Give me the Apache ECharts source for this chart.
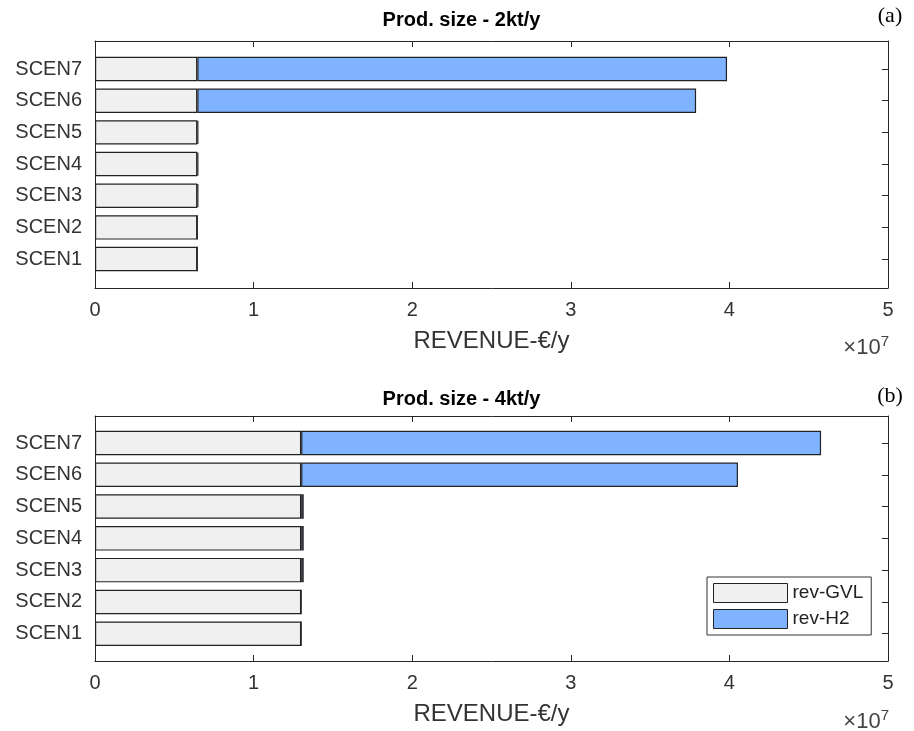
<!DOCTYPE html>
<html><head><meta charset="utf-8">
<script src="https://cdn.jsdelivr.net/npm/echarts@6/dist/echarts.min.js"></script>
<style>html,body{margin:0;padding:0;background:#fff}#c{width:914px;height:731px}</style>
</head><body><div id="c"></div>
<script>
const categories = ['SCEN1','SCEN2','SCEN3','SCEN4','SCEN5','SCEN6','SCEN7'];
const xTicks = [0,1,2,3,4,5];
const topGVL = [0.645e7,0.645e7,0.645e7,0.645e7,0.645e7,0.645e7,0.645e7];
const topH2  = [0,0,0.007e7,0.007e7,0.007e7,3.145e7,3.34e7];
const botGVL = [1.3e7,1.3e7,1.3e7,1.3e7,1.3e7,1.3e7,1.3e7];
const botH2  = [0,0,0.016e7,0.016e7,0.016e7,2.754e7,3.278e7];
const titles = ['Prod. size - 2kt/y','Prod. size - 4kt/y'];
const panelTags = ['(a)','(b)'];
const xName = 'REVENUE-€/y';
const names = ['rev-GVL','rev-H2'];

const chart = echarts.init(document.getElementById('c'));
const AX = '#262626';
const FONT = 'Liberation Sans';
const L = 95, R = 914-888;
const panels = [
  {frameTop:41, frameH:247, barTop:53.2, barH:221.7, gvl:topGVL, h2:topH2},
  {frameTop:416, frameH:245, barTop:427.1, barH:222.5, gvl:botGVL, h2:botH2}
];
const grid=[], xAxis=[], yAxis=[], series=[], graphic=[];
panels.forEach((p,i)=>{
  const g0 = grid.length;
  grid.push({left:L,right:R,top:p.frameTop,height:p.frameH,containLabel:false});
  grid.push({left:L,right:R,top:p.barTop,height:p.barH,containLabel:false});
  xAxis.push({gridIndex:g0,type:'value',min:0,max:5e7,interval:1e7,position:'bottom',
    axisLine:{show:true,onZero:false,lineStyle:{color:AX,width:1}},
    axisTick:{show:true,inside:true,length:6,lineStyle:{color:AX}},
    splitLine:{show:false},
    axisLabel:{show:true,margin:12,color:'#333',fontFamily:FONT,fontSize:20,formatter:v=>String(xTicks[Math.round(v/1e7)])},
    name:xName,nameLocation:'middle',nameGap:41,nameTextStyle:{color:'#333',fontFamily:FONT,fontSize:24}});
  xAxis.push({gridIndex:g0,type:'value',min:0,max:5e7,interval:1e7,position:'top',
    axisLine:{show:true,onZero:false,lineStyle:{color:AX,width:1}},
    axisTick:{show:true,inside:true,length:6,lineStyle:{color:AX}},
    splitLine:{show:false},axisLabel:{show:false}});
  const bx = xAxis.length;
  xAxis.push({gridIndex:g0+1,type:'value',min:0,max:5e7,show:false});
  yAxis.push({gridIndex:g0,type:'value',min:0,max:1,position:'left',
    axisLine:{show:true,onZero:false,lineStyle:{color:AX,width:1}},axisTick:{show:false},axisLabel:{show:false},splitLine:{show:false}});
  yAxis.push({gridIndex:g0,type:'value',min:0,max:1,position:'right',
    axisLine:{show:true,onZero:false,lineStyle:{color:AX,width:1}},axisTick:{show:false},axisLabel:{show:false},splitLine:{show:false}});
  const by = yAxis.length;
  yAxis.push({gridIndex:g0+1,type:'category',data:categories,position:'left',
    axisLine:{show:false,onZero:false},axisTick:{show:true,inside:true,length:6,alignWithLabel:true,lineStyle:{color:AX}},
    axisLabel:{margin:13,color:'#333',fontFamily:FONT,fontSize:20}});
  yAxis.push({gridIndex:g0+1,type:'category',data:categories,position:'right',
    axisLine:{show:false,onZero:false},axisTick:{show:true,inside:true,length:6,alignWithLabel:true,lineStyle:{color:AX}},
    axisLabel:{show:false}});
  series.push({name:names[0],type:'bar',stack:'s'+i,xAxisIndex:bx,yAxisIndex:by,data:p.gvl,barWidth:'77%',
    itemStyle:{color:'#f0f0f0',borderColor:'#222',borderWidth:1.2},emphasis:{disabled:true}});
  series.push({name:names[1],type:'bar',stack:'s'+i,xAxisIndex:bx,yAxisIndex:by,data:p.h2,barWidth:'77%',
    itemStyle:{color:'#80b3ff',borderColor:'#222',borderWidth:1.2},emphasis:{disabled:true}});
});
const titleY = [20, 399];
const tagY = [16, 396];
const expY = [348, 722];
titleY.forEach((y,i)=>{
  graphic.push({type:'text',x:461.5,y:y,style:{text:titles[i],fill:'#000',font:'bold 20px "Liberation Sans"',align:'center',verticalAlign:'middle'}});
  graphic.push({type:'text',x:890,y:tagY[i],style:{text:panelTags[i],fill:'#000',font:'22px "Liberation Serif"',align:'center',verticalAlign:'middle'}});
  graphic.push({type:'text',x:889,y:expY[i],style:{rich:{a:{fontFamily:FONT,fontSize:22,fill:'#444'},s:{fontFamily:FONT,fontSize:15,fill:'#444',verticalAlign:'top',padding:[0,0,13,0]}},text:'{a|×10}{s|7}',align:'right',verticalAlign:'middle'}});
});
chart.setOption({
  animation:false,
  backgroundColor:'#fff',
  grid, xAxis, yAxis, series, graphic,
  legend:{show:true,orient:'vertical',left:707,top:577,data:names,icon:'rect',itemWidth:74,itemHeight:19,itemGap:6,
    padding:[6,8,6,6],borderColor:'#333',borderWidth:1,backgroundColor:'#fff',borderRadius:0,
    itemStyle:{borderColor:'#222',borderWidth:1},
    textStyle:{fontFamily:FONT,fontSize:19,color:'#222'}}
});
</script></body></html>
